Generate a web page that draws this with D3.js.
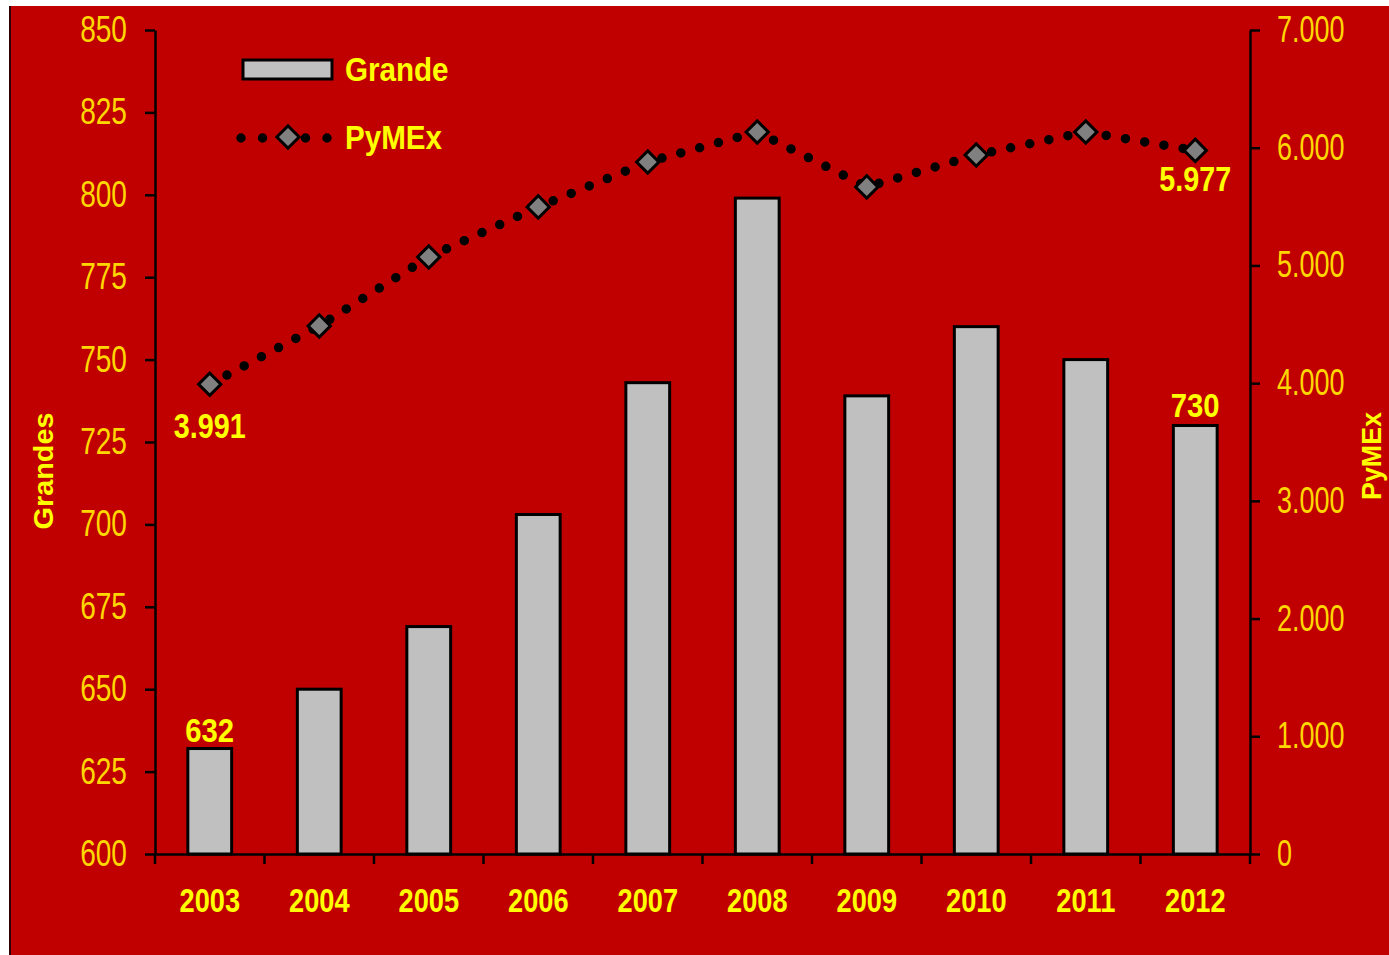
<!DOCTYPE html>
<html>
<head>
<meta charset="utf-8">
<script src="https://cdn.jsdelivr.net/npm/d3@7"></script>
<style>
  html, body { margin: 0; padding: 0; background: #ffffff; }
  svg { display: block; }
</style>
</head>
<body>
<svg id="chart" width="1389" height="955"></svg>
<script>
// ---- data ----
const years = ["2003", "2004", "2005", "2006", "2007", "2008", "2009", "2010", "2011", "2012"];
const grandes = [632, 650, 669, 703, 743, 799, 739, 760, 750, 730];
const pymex = [3991, 4486, 5072, 5497, 5879, 6134, 5667, 5938, 6134, 5977];
const leftTicks = [600, 625, 650, 675, 700, 725, 750, 775, 800, 825, 850];
const rightTicks = [0, 1000, 2000, 3000, 4000, 5000, 6000, 7000];
const rightTickLabels = ["0", "1.000", "2.000", "3.000", "4.000", "5.000", "6.000", "7.000"];
const seriesNames = ["Grande", "PyMEx"];
const axisTitles = ["Grandes", "PyMEx"];
const barLabels = [{ i: 0, text: "632" }, { i: 9, text: "730" }];
const lineLabels = [{ i: 0, text: "3.991" }, { i: 9, text: "5.977" }];

// ---- layout ----
const W = 1389, H = 955;
const plot = { left: 155, right: 1250, top: 30, bottom: 854 };
const RED = "#C00000";
const TICK_YELLOW = "#FFD700";
const LABEL_YELLOW = "#FFFF00";
const FONT = "'Liberation Sans Narrow', 'Arial Narrow', 'Liberation Sans', Arial, sans-serif";

const svg = d3.select("#chart");

// condense text horizontally (narrow look)
function condense(sel, factor) {
  sel.each(function () {
    const w = this.getComputedTextLength();
    d3.select(this).attr("textLength", w * factor).attr("lengthAdjust", "spacingAndGlyphs");
  });
}

// background panel
svg.append("rect").attr("x", 0).attr("y", 0).attr("width", W).attr("height", H).attr("fill", "#ffffff");
svg.append("rect").attr("x", 10).attr("y", 6).attr("width", W - 10).attr("height", H - 6).attr("fill", RED);
svg.append("line").attr("x1", 10).attr("x2", 10).attr("y1", 6).attr("y2", H)
  .attr("stroke", "#300000").attr("stroke-width", 2);

// scales
const x = d3.scaleBand().domain(years).range([plot.left, plot.right])
  .paddingInner(0.6).paddingOuter(0.3);
const yL = d3.scaleLinear().domain([600, 850]).range([plot.bottom, plot.top]);
const yR = d3.scaleLinear().domain([0, 7000]).range([plot.bottom, plot.top]);
const cx = d => x(d) + x.bandwidth() / 2;

// bars
svg.append("g").selectAll("rect").data(years).join("rect")
  .attr("x", d => x(d))
  .attr("y", (d, i) => yL(grandes[i]))
  .attr("width", x.bandwidth())
  .attr("height", (d, i) => yL(600) - yL(grandes[i]))
  .attr("fill", "#C0C0C0")
  .attr("stroke", "#000")
  .attr("stroke-width", 3);

// axes
function styleAxis(g, fontSize, color) {
  g.select(".domain").attr("stroke", "#000").attr("stroke-width", 2.5);
  g.selectAll(".tick line").attr("stroke", "#000").attr("stroke-width", 2.5);
  g.selectAll(".tick text").attr("fill", color).attr("font-size", fontSize)
    .attr("font-family", FONT);
}

const gL = svg.append("g").attr("transform", `translate(${plot.left},0)`)
  .call(d3.axisLeft(yL).tickValues(leftTicks).tickSize(10).tickSizeOuter(0).tickPadding(18).tickFormat(d3.format("d")));
styleAxis(gL, 36, TICK_YELLOW);
condense(gL.selectAll(".tick text"), 0.78);

const gR = svg.append("g").attr("transform", `translate(${plot.right},0)`)
  .call(d3.axisRight(yR).tickValues(rightTicks).tickSize(10).tickSizeOuter(0).tickPadding(17)
    .tickFormat((d, i) => rightTickLabels[i]));
styleAxis(gR, 36, TICK_YELLOW);
condense(gR.selectAll(".tick text"), 0.75);

// x axis: line, boundary ticks, labels
const gX = svg.append("g").attr("transform", `translate(0,${plot.bottom})`)
  .call(d3.axisBottom(x).tickSize(0).tickSizeOuter(0).tickPadding(34));
gX.select(".domain").attr("stroke", "#000").attr("stroke-width", 2.5);
gX.selectAll(".tick text").attr("fill", LABEL_YELLOW).attr("font-size", 34)
  .attr("font-weight", "bold").attr("font-family", FONT);
condense(gX.selectAll(".tick text"), 0.8);
const boundaries = years.map(d => x(d) - (x.step() - x.bandwidth()) / 2).concat([plot.right]);
gX.selectAll("line.bnd").data(boundaries).join("line").attr("class", "bnd")
  .attr("x1", d => d).attr("x2", d => d).attr("y1", 0).attr("y2", 10)
  .attr("stroke", "#000").attr("stroke-width", 2.5);

// dotted line
const pts = years.map((d, i) => [cx(d), yR(pymex[i])]);
svg.append("path").attr("d", d3.line()(pts))
  .attr("fill", "none").attr("stroke", "#000").attr("stroke-width", 9.5)
  .attr("stroke-linecap", "round").attr("stroke-dasharray", "0,19.5");

// diamonds
const diamond = d3.symbol().type(d3.symbolSquare).size(250);
svg.append("g").selectAll("path").data(pts).join("path")
  .attr("d", diamond())
  .attr("transform", d => `translate(${d[0]},${d[1]}) rotate(45)`)
  .attr("fill", "#808080").attr("stroke", "#000").attr("stroke-width", 3);

// data labels
const barLabelOffset = [-18, -20];
const lineLabelOffset = [42, 28];
const bl = svg.append("g").selectAll("text").data(barLabels).join("text")
  .attr("x", d => cx(years[d.i]))
  .attr("y", (d, k) => yL(grandes[d.i]) + barLabelOffset[k])
  .attr("dy", "0.35em")
  .attr("text-anchor", "middle")
  .attr("fill", LABEL_YELLOW).attr("font-size", 34).attr("font-weight", "bold")
  .attr("font-family", FONT).text(d => d.text);
condense(bl, 0.86);

const ll = svg.append("g").selectAll("text").data(lineLabels).join("text")
  .attr("x", d => cx(years[d.i]))
  .attr("y", (d, k) => yR(pymex[d.i]) + lineLabelOffset[k])
  .attr("dy", "0.35em")
  .attr("text-anchor", "middle")
  .attr("fill", LABEL_YELLOW).attr("font-size", 35).attr("font-weight", "bold")
  .attr("font-family", FONT).text(d => d.text);
condense(ll, 0.82);

// axis titles
svg.append("text").attr("transform", "translate(44,471) rotate(-90)")
  .attr("dy", "0.35em").attr("text-anchor", "middle")
  .attr("fill", LABEL_YELLOW).attr("font-size", 27).attr("font-weight", "bold")
  .attr("font-family", FONT).attr("textLength", 117).attr("lengthAdjust", "spacingAndGlyphs")
  .text(axisTitles[0]);
svg.append("text").attr("transform", "translate(1371,456) rotate(-90)")
  .attr("dy", "0.35em").attr("text-anchor", "middle")
  .attr("fill", LABEL_YELLOW).attr("font-size", 28).attr("font-weight", "bold")
  .attr("font-family", FONT).attr("textLength", 88).attr("lengthAdjust", "spacingAndGlyphs")
  .text(axisTitles[1]);

// legend
const lg = svg.append("g");
lg.append("rect").attr("x", 243).attr("y", 60).attr("width", 89).attr("height", 19)
  .attr("fill", "#C0C0C0").attr("stroke", "#000").attr("stroke-width", 3);
lg.append("path").attr("d", d3.line()([[241, 138], [330, 138]]))
  .attr("stroke", "#000").attr("stroke-width", 9.5).attr("stroke-linecap", "round")
  .attr("stroke-dasharray", "0,21.5").attr("fill", "none");
lg.append("path").attr("d", diamond())
  .attr("transform", "translate(288,137) rotate(45)")
  .attr("fill", "#808080").attr("stroke", "#000").attr("stroke-width", 3);
const lt = lg.selectAll("text").data(seriesNames).join("text")
  .attr("x", 345).attr("y", (d, i) => 69 + i * 68).attr("dy", "0.35em")
  .attr("fill", LABEL_YELLOW).attr("font-size", 34).attr("font-weight", "bold")
  .attr("font-family", FONT).text(d => d);
condense(lt, 0.87);
</script>
</body>
</html>
